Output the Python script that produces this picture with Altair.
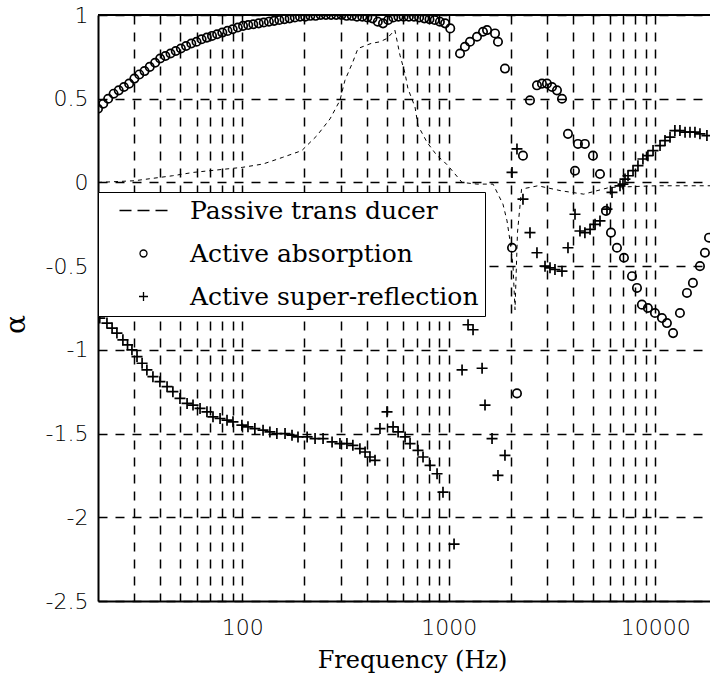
import altair as alt
import pandas as pd

# ---------------- data ----------------
series_names = ["Passive trans ducer", "Active absorption", "Active super-reflection"]

passive_freq = [20, 30, 46, 58, 100, 126, 157, 194, 230, 266, 297, 314, 343, 363,
                420, 464, 502, 548, 580, 614, 634, 686, 709, 784, 877, 937, 991,
                1159, 1369, 1637, 1829, 1914, 1979, 2046, 2092, 2150, 2250, 2700,
                3500, 4500, 6000, 10000, 18400]
passive_val = [0.0, 0.01, 0.04, 0.06, 0.09, 0.11, 0.15, 0.19, 0.28, 0.38, 0.49, 0.61, 0.72, 0.80,
               0.83, 0.84, 0.86, 0.91, 0.76, 0.65, 0.56, 0.45, 0.34, 0.24, 0.16, 0.13, 0.10,
               0.0, -0.01, -0.01, -0.13, -0.23, -0.35, -0.50, -0.76, -0.30, -0.04, -0.02,
               -0.05, -0.07, -0.03, -0.02, -0.02]

absorb_freq = [20, 21.2, 22.4, 23.8, 25.2, 26.7, 28.3, 30, 31.7, 33.6,
               35.6, 37.8, 40, 42.4, 44.9, 47.6, 50.4, 53.4, 56.6, 60,
               63.5, 67.3, 71.3, 75.5, 80, 84.8, 89.8, 95.1, 100.8, 106.8,
               113, 120, 127, 134.5, 142.5, 151, 160, 169.5, 179.6, 190.3,
               201.6, 213.6, 226.3, 239.7, 254, 269, 285, 302, 320, 339,
               359, 381, 403, 427, 453, 480, 508, 538, 570, 604,
               640, 678, 718, 761, 806, 854, 905, 959, 1016,
               1133, 1197, 1266, 1369, 1464, 1531, 1674, 1730, 1870, 2023,
               2138, 2286, 2472, 2672, 2825, 2987, 3160, 3340, 3532, 3776,
               4083, 4220, 4560, 4990, 5396, 5768, 6100, 6520, 7050, 7710,
               8150, 8610, 9205, 9960, 10770, 11380, 12190, 13160, 14230, 15210,
               16450, 17390, 18200]
absorb_val = [0.44, 0.47, 0.50, 0.53, 0.55, 0.57, 0.59, 0.62, 0.645, 0.665,
              0.69, 0.715, 0.74, 0.755, 0.77, 0.785, 0.80, 0.815, 0.83, 0.84,
              0.855, 0.865, 0.875, 0.885, 0.895, 0.905, 0.915, 0.925, 0.935, 0.94,
              0.945, 0.95, 0.955, 0.96, 0.965, 0.97, 0.975, 0.98, 0.985, 0.99,
              0.99, 0.995, 0.995, 1.0, 1.0, 1.0, 1.0, 1.0, 0.995, 0.995,
              0.99, 0.99, 0.985, 0.98, 0.96, 0.95, 0.97, 0.985, 0.99, 0.99,
              0.99, 0.99, 0.985, 0.98, 0.975, 0.97, 0.96, 0.95, 0.92,
              0.77, 0.81, 0.84, 0.87, 0.90, 0.91, 0.89, 0.84, 0.68, -0.39,
              -1.26, 0.16, 0.49, 0.58, 0.59, 0.59, 0.57, 0.55, 0.50, 0.29,
              0.07, 0.23, 0.23, 0.16, 0.05, -0.17, -0.30, -0.39, -0.45, -0.56,
              -0.63, -0.73, -0.75, -0.78, -0.81, -0.84, -0.90, -0.78, -0.66, -0.60,
              -0.50, -0.42, -0.33]

reflect_freq = [20.4, 22.1, 23.4, 24.7, 26.4, 27.8, 29.2, 30.9, 32.7, 34.5,
                36.9, 39.9, 43.2, 46.1, 49.9, 54.0, 57.7, 62.4, 67.4, 72.1,
                78, 84.3, 90.1, 99.5, 106.5, 115, 126, 136, 147, 161,
                174, 186, 206, 225, 246, 272, 297, 321, 343, 371,
                393, 415, 439, 464, 502, 537, 568, 614, 649, 709,
                750, 811, 877, 937, 1060, 1159, 1239, 1310, 1449, 1497,
                1619, 1730, 1870, 2023, 2138, 2286, 2472, 2672, 2923, 3090,
                3266, 3532, 3776, 4083, 4316, 4560, 4830, 5106, 5396, 5834,
                6168, 6745, 6972, 7130, 7376, 7800, 8240, 8710, 9205, 9750,
                10540, 11140, 11780, 12440, 13160, 13930, 14720, 15560, 16450, 17780]
reflect_val = [-0.81, -0.84, -0.87, -0.90, -0.94, -0.97, -1.00, -1.04, -1.08, -1.12,
               -1.16, -1.19, -1.22, -1.25, -1.29, -1.32, -1.33, -1.35, -1.37, -1.40,
               -1.41, -1.42, -1.43, -1.45, -1.46, -1.47, -1.48, -1.49, -1.50, -1.50,
               -1.51, -1.52, -1.52, -1.53, -1.53, -1.55, -1.56, -1.56, -1.57, -1.59,
               -1.61, -1.64, -1.66, -1.47, -1.37, -1.46, -1.49, -1.52, -1.56, -1.60,
               -1.64, -1.69, -1.74, -1.85, -2.16, -1.12, -0.85, -0.88, -1.11, -1.33,
               -1.53, -1.75, -1.63, 0.06, 0.20, -0.10, -0.30, -0.42, -0.50, -0.51,
               -0.52, -0.53, -0.39, -0.19, -0.29, -0.30, -0.28, -0.25, -0.23, -0.16,
               -0.06, -0.02, -0.01, 0.02, 0.04, 0.07, 0.10, 0.14, 0.16, 0.19,
               0.22, 0.25, 0.27, 0.31, 0.31, 0.30, 0.30, 0.30, 0.29, 0.28]

x_grid_values = [30, 40, 50, 60, 70, 80, 90, 100, 200, 300, 400, 500, 600, 700, 800, 900,
                 1000, 2000, 3000, 4000, 5000, 6000, 7000, 8000, 9000, 10000]
x_label_values = [100, 1000, 10000]
y_tick_values = [-2.5, -2, -1.5, -1, -0.5, 0, 0.5, 1]

# ---------------- tables ----------------
df_passive = pd.DataFrame({"f": passive_freq, "a": passive_val})
df_absorb = pd.DataFrame({"f": absorb_freq, "a": absorb_val})
df_reflect = pd.DataFrame({"f": reflect_freq, "a": reflect_val})
df_legend = pd.DataFrame({"series": series_names})
df_top = pd.DataFrame({"a": [1]})

x_scale = alt.Scale(type="log", domain=[20, 18400], nice=False)
y_scale = alt.Scale(domain=[-2.5, 1], nice=False, zero=False)

label_test = " || ".join(f"datum.value == {v}" for v in x_label_values)

x_axis = alt.Axis(
    values=x_grid_values,
    labelExpr=f"({label_test}) ? '' + datum.value : ''",
    title="Frequency (Hz)",
    titleX=314, titleY=66, titleBaseline="alphabetic", titleAlign="center",
    titleFont="DejaVu Serif", titleFontSize=24, titleFontWeight="normal",
    labelPadding=16, labelOverlap=False, labelFlush=False, ticks=False,
)
y_axis = alt.Axis(
    values=y_tick_values,
    labelExpr="'' + datum.value",
    title="α",
    titleX=-82, titleY=309, titleAngle=270, titleBaseline="middle", titleAlign="center",
    titleFont="DejaVu Serif", titleFontSize=28, titleFontWeight="normal",
    labelPadding=10, labelOverlap=False, labelFlush=False, ticks=False,
)

X = alt.X("f:Q", scale=x_scale, axis=x_axis)
Y = alt.Y("a:Q", scale=y_scale, axis=y_axis)

passive = alt.Chart(df_passive).mark_line(
    color="black", strokeWidth=1, strokeDash=[4, 4], clip=True
).encode(x=X, y=Y)

absorb = alt.Chart(df_absorb).mark_point(
    shape="circle", size=70, filled=False, color="black", strokeWidth=1.7, opacity=1, clip=True
).encode(x=X, y=Y)

reflect = alt.Chart(df_reflect).mark_point(
    shape="M-1,0H1M0,-1V1", size=121, filled=False, color="black", strokeWidth=1.7, opacity=1, clip=True
).encode(x=X, y=Y)

top_border = alt.Chart(df_top).mark_rule(color="black", strokeWidth=2).encode(
    y=alt.Y("a:Q", scale=y_scale, axis=y_axis)
)

legend_paths = [
    "M-2.4,0H-1.2M-0.6,0H0.6M1.2,0H2.4",
    "M0.35,0A0.35,0.35,0,1,1,-0.35,0A0.35,0.35,0,1,1,0.35,0Z",
    "M-0.45,0H0.45M0,-0.45V0.45",
]

legend_layer = alt.Chart(df_legend).mark_point(
    filled=False, color="black", opacity=0
).encode(
    shape=alt.Shape(
        "series:N",
        scale=alt.Scale(domain=series_names, range=legend_paths),
        legend=alt.Legend(
            title=None, orient="none", legendX=0, legendY=177, direction="vertical",
            padding=6, strokeColor="black", fillColor="white",
            labelFont="DejaVu Serif", labelFontSize=25, labelColor="black", labelLimit=500,
            labelExpr="datum.label + '\u00a0\u00a0'",
            symbolSize=400, symbolStrokeWidth=1.3, symbolStrokeColor="black",
            symbolFillColor="transparent", symbolOpacity=1,
            symbolOffset=27, labelOffset=34, rowPadding=17,
        ),
    )
)

chart = alt.layer(top_border, passive, absorb, reflect, legend_layer).properties(
    width=612, height=586,
    autosize=alt.AutoSizeParams(type="none"),
    padding={"left": 98, "top": 15, "right": 0, "bottom": 80},
).configure_view(stroke=None).configure_axis(
    labelFont="DejaVu Sans", labelFontSize=22, labelColor="black", labelFontWeight=300,
    titleColor="black", domainColor="black", domainWidth=2,
    grid=True, gridColor="black", gridDash=[9, 8], gridWidth=1.5, gridOpacity=1,
)

chart.save("out.html", embed_options={"renderer": "svg", "actions": False})
